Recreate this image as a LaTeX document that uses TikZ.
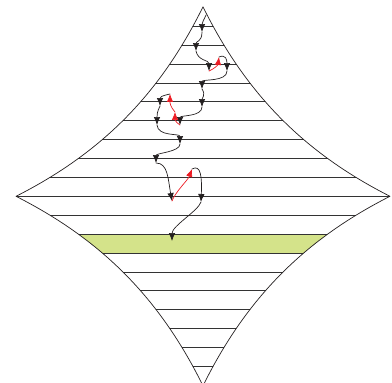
\documentclass[tikz,border=0pt]{standalone}
\usetikzlibrary{arrows.meta}
\begin{document}
\begin{tikzpicture}[x=1bp,y=-1bp,line cap=round,line join=round,
  walk/.style={draw=walkline,line width=0.7pt,-{Latex[length=8pt,width=6.5pt]}},
  backstep/.style={draw=backline,line width=0.7pt,-{Latex[length=8pt,width=6.5pt]}}]
\definecolor{rungline}{HTML}{333333}
\definecolor{kiteedge}{HTML}{231F20}
\definecolor{walkline}{HTML}{231F20}
\definecolor{backline}{HTML}{ED1C24}
\definecolor{bandfill}{HTML}{D4E38A}
\useasboundingbox (0,0) rectangle (392,383);

\begin{scope}[shift={(203,196.3)}]
  % rungs and the shaded band, cut to the kite
  \begin{scope}
    \clip (0,-189.5) .. controls (43,-102.3) and (101,-43.6) .. (187,0)
      .. controls (101,43.6) and (43,102.3) .. (0,189.5)
      .. controls (-43,102.3) and (-101,43.6) .. (-187,0)
      .. controls (-101,-43.6) and (-43,-102.3) .. cycle;
    \fill[bandfill] (-200,37.8) rectangle (200,56.7);
    \foreach \k in {-9,...,9}
      \draw[rungline,line width=0.8pt] (-200,\k*18.9) -- (200,\k*18.9);
  \end{scope}
  \draw[kiteedge,line width=0.7pt]
    (0,-189.5) .. controls (43,-102.3) and (101,-43.6) .. (187,0)
    .. controls (101,43.6) and (43,102.3) .. (0,189.5)
    .. controls (-43,102.3) and (-101,43.6) .. (-187,0)
    .. controls (-101,-43.6) and (-43,-102.3) .. cycle;
\end{scope}

% steps of the walk
\coordinate (w0) at (206,15);
\coordinate (w1) at (202,32);
\coordinate (w2) at (196,51);
\coordinate (w3) at (209,71);
\coordinate (w4) at (219,57);
\coordinate (w5) at (227,71);
\coordinate (w6) at (202,89);
\coordinate (w7) at (202,107);
\coordinate (w8) at (180,125);
\coordinate (w9) at (175,112);
\coordinate (w10) at (170,94);
\coordinate (w11) at (160,106);
\coordinate (w12) at (157,125);
\coordinate (w13) at (180,144);
\coordinate (w14) at (156,163);
\coordinate (w15) at (172,201);
\coordinate (w16) at (192,169);
\coordinate (w17) at (201,202);
\coordinate (w18) at (172,241);

\draw[walk] (w0) .. controls +(-2,5) and +(0,-10) .. (w1);
\draw[walk] (w1) .. controls +(0,10) and +(0,-10) .. (w2);
\draw[walk] (w2) .. controls +(2,10) and +(0,-11) .. (w3);
\draw[backstep] (w3) .. controls +(5,-2) and +(-1,8) .. (w4);
\draw[walk] (w4) .. controls +(7,-3) and +(0,-11) .. (w5);
\draw[walk] (w5) .. controls +(0,11) and +(0,-10) .. (w6);
\draw[walk] (w6) .. controls +(4,6) and +(0,-9) .. (w7);
\draw[walk] (w7) .. controls +(0,10) and +(0,-10) .. (w8);
\draw[backstep] (w8) .. controls +(-5,-3) and +(0,7) .. (w9);
\draw[backstep] (w9) .. controls +(-5,-6) and +(0,9) .. (w10);
\draw[walk] (w10) .. controls +(-9,2) and +(0,-9) .. (w11);
\draw[walk] (w11) .. controls +(-3,6) and +(0,-10) .. (w12);
\draw[walk] (w12) .. controls +(1,12) and +(0,-11) .. (w13);
\draw[walk] (w13) .. controls +(0,8) and +(0,-10) .. (w14);
\draw[walk] (w14) .. controls +(12,0) and +(-4,-22) .. (w15);
\draw[backstep] (w15) .. controls +(4,-10) and +(-4,11) .. (w16);
\draw[walk] (w16) .. controls +(9,-5) and +(1,-25) .. (w17);
\draw[walk] (w17) .. controls +(-3,9) and +(0,-15) .. (w18);
\end{tikzpicture}
\end{document}
